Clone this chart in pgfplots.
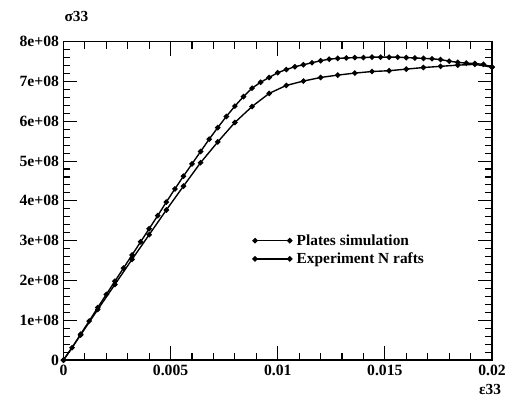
\documentclass[border=0pt]{standalone}
\usepackage{pgfplots}
\pgfplotsset{compat=1.18}
\usepackage{fontspec}
\setmainfont{Liberation Serif}
\begin{document}
\begin{tikzpicture}
\begin{axis}[
  scale only axis, width=432pt, height=321pt,
  xmin=0, xmax=0.02, ymin=0, ymax=8e8,
  clip=false,
  scaled ticks=false,
  xtick={0,0.005,0.01,0.015,0.02},
  xticklabels={0,0.005,0.01,0.015,0.02},
  ytick={0,1e8,2e8,3e8,4e8,5e8,6e8,7e8,8e8},
  yticklabels={0,1e+08,2e+08,3e+08,4e+08,5e+08,6e+08,7e+08,8e+08},
  minor x tick num=4, minor y tick num=4,
  tick align=inside,
  major tick length=14pt, minor tick length=7pt,
  tick style={line width=1.1pt, black},
  axis line style={line width=1.6pt},
  tick label style={font=\fontsize{15.8}{17}\selectfont\bfseries},
  xticklabel style={yshift=-2pt},
  yticklabel style={xshift=-1pt},
  xlabel={ε33}, ylabel={σ33},
  xlabel style={at={(rel axis cs:1,0)}, anchor=center, xshift=-2pt, yshift=-30pt, font=\fontsize{15.5}{17}\selectfont\bfseries},
  ylabel style={at={(rel axis cs:0,1)}, rotate=-90, anchor=center, xshift=13pt, yshift=25pt, font=\fontsize{15.5}{17}\selectfont\bfseries},
  legend style={at={(axis cs:0.0087,2.77e8)}, anchor=west, draw=none, fill=none, font=\fontsize{15.5}{17}\selectfont\bfseries, row sep=2pt},
  legend cell align=left,
  legend image code/.code={\draw[mark repeat=1,mark phase=1,#1] plot coordinates {(0pt,0pt) (35pt,0pt)};},
]
\addplot[black, line width=1.4pt, mark=*, mark size=2pt] coordinates {
(0,0) (0.0008,0.63e8) (0.0016,1.27e8) (0.0024,1.90e8) (0.0032,2.53e8)
(0.0040,3.15e8) (0.0048,3.77e8) (0.0056,4.37e8) (0.0064,4.96e8) (0.0072,5.48e8)
(0.0080,5.97e8) (0.0088,6.37e8) (0.0096,6.70e8) (0.0104,6.90e8) (0.0112,7.01e8)
(0.0120,7.10e8) (0.0128,7.16e8) (0.0136,7.21e8) (0.0144,7.25e8) (0.0152,7.27e8)
(0.0160,7.31e8) (0.0168,7.35e8) (0.0176,7.38e8) (0.0184,7.41e8) (0.0192,7.43e8)
(0.0200,7.36e8)
};
\addlegendentry{\hspace{3pt}Plates simulation}
\addplot[black, line width=1.4pt, mark=*, mark size=2pt] coordinates {
(0,0) (0.0004,0.31e8) (0.0008,0.65e8) (0.0012,0.98e8) (0.0016,1.32e8)
(0.0020,1.65e8) (0.0024,1.98e8) (0.0028,2.31e8) (0.0032,2.64e8) (0.0036,2.97e8)
(0.0040,3.30e8) (0.0044,3.63e8) (0.0048,3.97e8) (0.0052,4.30e8) (0.0056,4.62e8)
(0.0060,4.93e8) (0.0064,5.24e8) (0.0068,5.55e8) (0.0072,5.84e8) (0.0076,6.12e8)
(0.0080,6.38e8) (0.0084,6.62e8) (0.0088,6.83e8) (0.0092,6.98e8) (0.0096,7.10e8)
(0.0100,7.22e8) (0.0104,7.30e8) (0.0108,7.37e8) (0.0112,7.42e8) (0.0116,7.47e8)
(0.0120,7.52e8) (0.0124,7.56e8) (0.0128,7.58e8) (0.0132,7.59e8) (0.0136,7.60e8)
(0.0140,7.60e8) (0.0144,7.61e8) (0.0148,7.61e8) (0.0152,7.61e8) (0.0156,7.61e8)
(0.0160,7.60e8) (0.0164,7.59e8) (0.0168,7.58e8) (0.0172,7.57e8) (0.0176,7.55e8)
(0.0180,7.51e8) (0.0184,7.48e8) (0.0188,7.46e8) (0.0192,7.45e8) (0.0196,7.43e8)
(0.0200,7.36e8)
};
\addlegendentry{\hspace{3pt}Experiment N rafts}
\path ([xshift=-64pt,yshift=-49pt]rel axis cs:0,0) rectangle ([xshift=13pt,yshift=42pt]rel axis cs:1,1);
\end{axis}
\end{tikzpicture}
\end{document}
